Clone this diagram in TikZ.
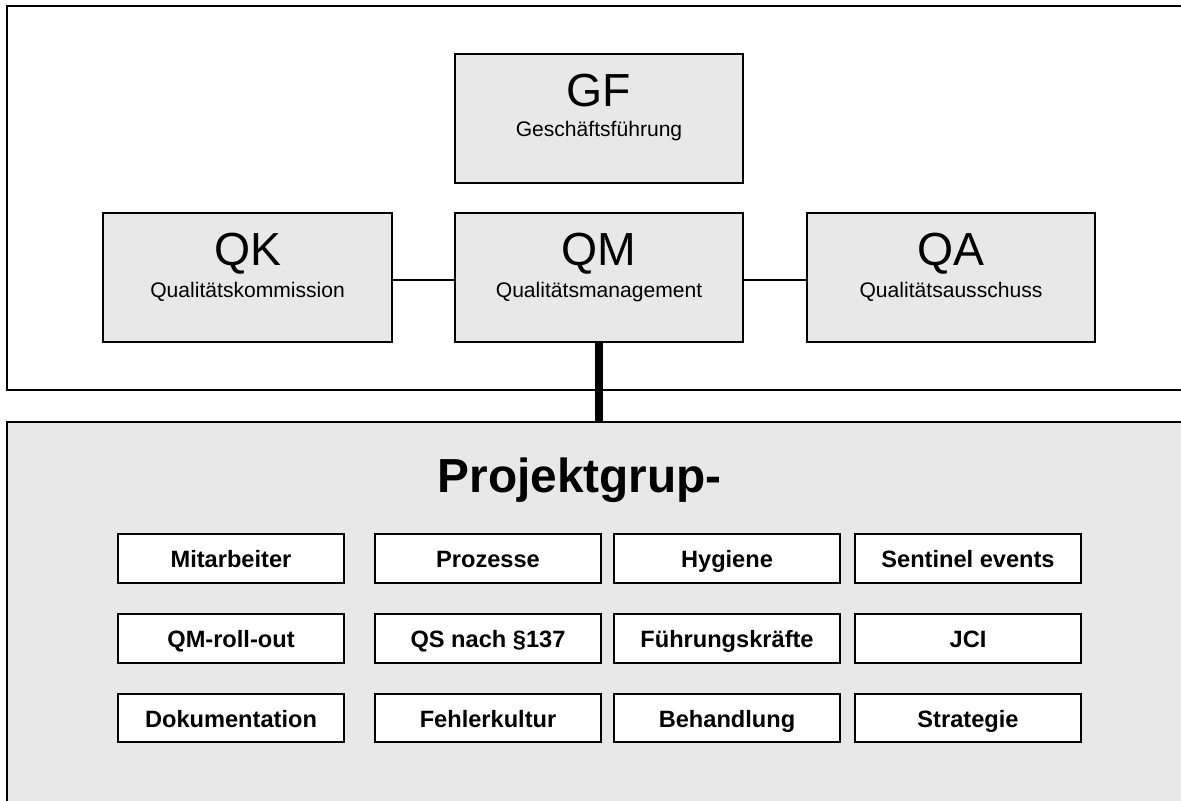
\documentclass[tikz,border=0pt]{standalone}
\usepackage{fontspec}
\setmainfont{Liberation Sans}
\usepackage{tikz}
\definecolor{boxgray}{HTML}{E8E8E8}

\begin{document}
\begin{tikzpicture}[
    panel/.style={draw, line width=1.4pt, anchor=north west, inner sep=0pt, outer sep=0pt},
    orgbox/.style={draw, fill=boxgray, line width=1.3pt, minimum width=7.21cm, minimum height=3.22cm, inner sep=0pt},
    abbr/.style={anchor=base, font=\fontsize{33}{36}\selectfont},
    fullname/.style={anchor=base, font=\fontsize{15}{18}\selectfont},
    groupbox/.style={draw, fill=white, line width=1.3pt, minimum width=5.65cm, minimum height=1.22cm, inner sep=0pt,
      text height=13.5pt, text depth=0pt, font=\fontsize{16.8}{19}\selectfont\bfseries}
  ]
    \useasboundingbox (0,0) rectangle (29.525,20);
    \clip (0,0) rectangle (29.525,20);

    % upper frame and lower panel
    \node[panel, minimum width=30cm, minimum height=9.6cm] (frame) at (0.175,19.85) {};
    \node[panel, fill=boxgray, minimum width=30cm, minimum height=10cm] (pg) at (0.175,9.45) {};

    % management
    \node[orgbox] (gf) at (14.975,17.04) {};
    \node[abbr] (gf-abbr) at ([yshift=0.29cm]gf.center) {GF};
    \node[fullname] (gf-name) at ([yshift=-0.46cm]gf.center) {Geschäftsführung};

    \foreach \name/\x/\abbr/\full in {qk/6.19/QK/Qualitätskommission,
        qm/14.975/QM/Qualitätsmanagement, qa/23.775/QA/Qualitätsausschuss} {
      \node[orgbox] (\name) at (\x,13.06) {};
      \node[abbr] (\name-abbr) at ([yshift=0.29cm]\name.center) {\abbr};
      \node[fullname] (\name-name) at ([yshift=-0.49cm]\name.center) {\full};
    }

    \draw[line width=1.1pt] ([yshift=-0.06cm]qk.east) -- ([yshift=-0.06cm]qm.west);
    \draw[line width=1.1pt] ([yshift=-0.06cm]qm.east) -- ([yshift=-0.06cm]qa.west);
    \draw[line width=5.7pt] (qm.south) -- (qm.south |- pg.north);

    % project groups
    \node[anchor=base, font=\fontsize{34}{40}\selectfont\bfseries] (pg-title) at (14.49,7.675) {Projektgrup-};

    \foreach \name/\x/\y/\txt in {mitarbeiter/5.775/6.04/Mitarbeiter, prozesse/12.2/6.04/Prozesse,
        hygiene/18.175/6.04/Hygiene, sentinel/24.2/6.04/Sentinel events,
        rollout/5.775/4.04/QM-roll-out, qs/12.2/4.04/QS nach §137,
        fuehrung/18.175/4.04/Führungskräfte, jci/24.2/4.04/JCI,
        doku/5.775/2.05/Dokumentation, fehler/12.2/2.05/Fehlerkultur,
        behandlung/18.175/2.05/Behandlung, strategie/24.2/2.05/Strategie} {
      \node[groupbox] (\name) at (\x,\y) {\txt};
    }
\end{tikzpicture}
\end{document}
